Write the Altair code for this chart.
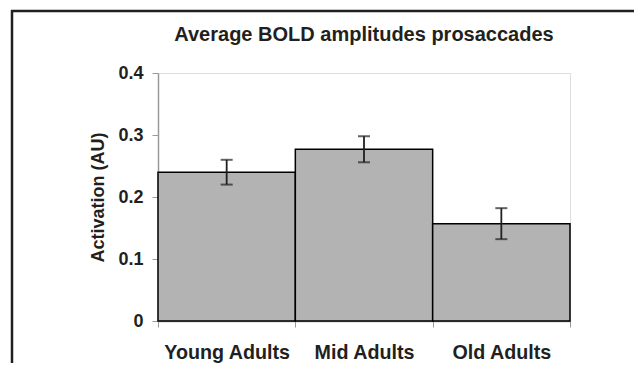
import altair as alt
import pandas as pd

groups = ["Young Adults", "Mid Adults", "Old Adults"]
means = [0.240, 0.277, 0.157]
errs = [0.020, 0.021, 0.025]
y_ticks = [0, 0.1, 0.2, 0.3, 0.4]

df = pd.DataFrame({
    "group": groups,
    "mean": means,
    "lo": [m - e for m, e in zip(means, errs)],
    "hi": [m + e for m, e in zip(means, errs)],
})

FONT = "Liberation Sans"
INK = "#231f20"

x = alt.X("group:N", sort=groups, title=None,
          scale=alt.Scale(paddingInner=0, paddingOuter=0),
          axis=alt.Axis(tickBand="extent", labelAngle=0, labelFont=FONT,
                        labelFontSize=19.7, labelFontWeight="bold", labelColor=INK,
                        domainColor="#9a9a9a", domainWidth=1.5, tickColor="#9a9a9a",
                        tickSize=6, labelPadding=15))

y_scale = alt.Scale(domain=[0, 0.4], nice=False)

bars = alt.Chart(df).mark_bar(color="#b3b3b3", stroke="#000000", strokeWidth=1.5).encode(
    x=x,
    y=alt.Y("mean:Q", scale=y_scale, title="Activation (AU)",
            axis=alt.Axis(values=y_ticks, grid=False,
                          labelExpr="datum.value == 0 ? '0' : format(datum.value, '.1f')",
                          labelFont=FONT, labelFontSize=18, labelFontWeight="bold",
                          labelColor=INK, titleFont=FONT, titleFontSize=18,
                          titleFontWeight="bold", titleColor=INK, titlePadding=10,
                          domainColor="#9a9a9a", domainWidth=1.5, tickColor="#9a9a9a",
                          tickSize=6, labelPadding=9)),
)

rules = alt.Chart(df).mark_rule(color=INK, strokeWidth=1.8).encode(
    x=alt.X("group:N", sort=groups), y="lo:Q", y2="hi:Q")
cap_lo = alt.Chart(df).mark_tick(color=INK, size=12, thickness=2).encode(
    x=alt.X("group:N", sort=groups), y="lo:Q")
cap_hi = alt.Chart(df).mark_tick(color=INK, size=12, thickness=2).encode(
    x=alt.X("group:N", sort=groups), y="hi:Q")

frame_top = alt.Chart(alt.Data(values=[{}])).mark_rule(
    color=INK, strokeWidth=2.5, clip=False).encode(
    x=alt.value(-147), x2=alt.value(476), y=alt.value(-62))
frame_left = alt.Chart(alt.Data(values=[{}])).mark_rule(
    color=INK, strokeWidth=2.5, clip=False).encode(
    x=alt.value(-146), y=alt.value(-63), y2=alt.value(290))

chart = alt.layer(bars, rules, cap_lo, cap_hi, frame_top, frame_left).properties(
    width=412, height=248,
    title=alt.TitleParams("Average BOLD amplitudes prosaccades", font=FONT,
                          fontSize=20, fontWeight="bold", color=INK, anchor="middle",
                          baseline="alphabetic", offset=0, dy=52),
    autosize=alt.AutoSizeParams(type="none"),
    padding={"left": 150, "top": 65, "right": 64, "bottom": 42},
).configure_view(stroke=None).configure(background="white")

chart.save("out.html", embed_options={"renderer": "svg", "actions": False})
